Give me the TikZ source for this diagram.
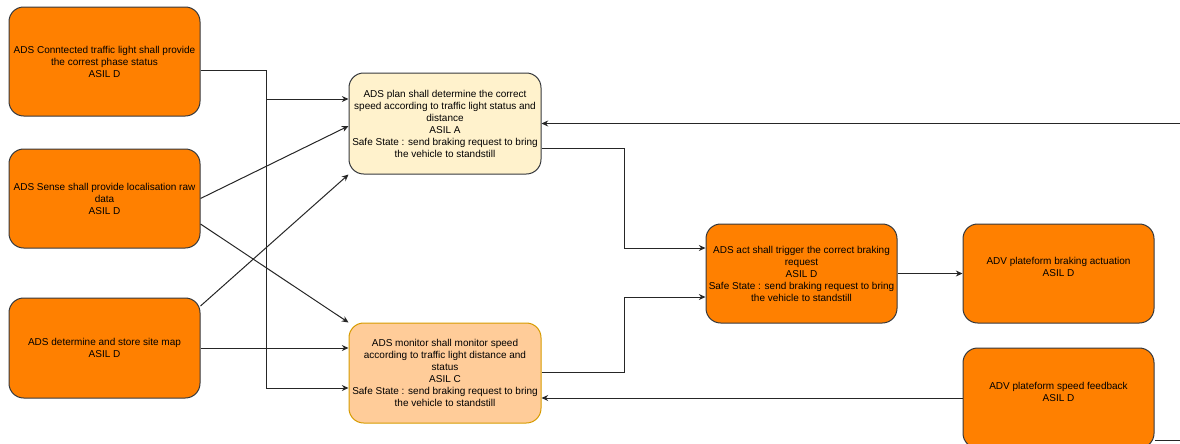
\documentclass[tikz,border=0pt]{standalone}
\usepackage{fontspec}
\setmainfont{Liberation Sans}
\usetikzlibrary{arrows.meta,calc}
\definecolor{fillorange}{HTML}{FF8000}
\definecolor{edgegray}{HTML}{36393D}
\definecolor{planfill}{HTML}{FFF2CC}
\definecolor{monfill}{HTML}{FFCC99}
\definecolor{monedge}{HTML}{D79B00}
\tikzset{
  req/.style={draw=edgegray, line width=0.75pt, rounded corners=11pt, align=center,
    font=\fontsize{7.5}{9}\selectfont, inner sep=0pt, minimum width=143.25pt},
  hotbox/.style={req, fill=fillorange},
  planbox/.style={req, fill=planfill, minimum width=144pt},
  monbox/.style={req, fill=monfill, draw=monedge, minimum width=144pt},
  txt/.style={align=center, font=\fontsize{7.5}{9}\selectfont, inner sep=0pt},
  link/.style={draw=black!85, line width=0.75pt, -{Stealth[length=5pt,width=4.5pt]}},
  plain/.style={draw=black!85, line width=0.75pt}
}
\begin{document}
\begin{tikzpicture}[x=0.75pt,y=-0.75pt]
\useasboundingbox (0,0) rectangle (1180,443);
% requirement boxes
\node[hotbox, minimum height=81.75pt] (light) at (104.5,61.5)
  {ADS Conntected traffic light shall provide\\the correst phase status\\ASIL D};
\node[hotbox, minimum height=74.25pt] (sense) at (104.5,198.5)
  {ADS Sense shall provide localisation raw\\data\\ASIL D};
\node[hotbox, minimum height=75pt] (map) at (104.5,348)
  {ADS determine and store site map\\ASIL D};
\node[planbox, minimum height=75.75pt] (plan) at (445,123.5)
  {ADS plan shall determine the correct\\speed according to traffic light status and\\distance\\ASIL A\\Safe State : send braking request to bring\\the vehicle to standstill};
\node[monbox, minimum height=75pt] (monitor) at (445,373)
  {ADS monitor shall monitor speed\\according to traffic light distance and\\status\\ASIL C\\Safe State : send braking request to bring\\the vehicle to standstill};
\node[hotbox, minimum height=74.25pt] (act) at (801.5,273.5)
  {ADS act shall trigger the correct braking\\request\\ASIL D\\Safe State : send braking request to bring\\the vehicle to standstill};
\node[hotbox, minimum height=74.25pt] (brake) at (1058.5,273.5) {};
\node[txt] (braketext) at (1058.5,267) {ADV plateform braking actuation\\ASIL D};
\node[hotbox, minimum height=75pt] (speed) at (1058.5,398) {};
\node[txt] (speedtext) at (1058.5,391.5) {ADV plateform speed feedback\\ASIL D};
% free ends leaving the sheet
\coordinate (feedin) at (1180,123.5);
\coordinate (feedout) at (1180,440);
% connectors
\draw[link] (light.east |- 0,70) -| (266,99) -- (plan.west |- 0,99);
\draw[link] (light.east |- 0,70) -| (266,388) -- (monitor.west |- 0,388);
\draw[link] (sense.east) -- (plan.west |- 0,126);
\draw[link] (sense.east |- 0,224) -- (monitor.north west);
\draw[link] (map.east |- 0,306) -- (plan.south west);
\draw[link] (map.east) -- (monitor.west |- map.east);
\draw[link] (plan.east |- 0,148) -| (624,248) -- (act.west |- 0,248);
\draw[link] (monitor.east |- 0,372) -| (624,297) -- (act.west |- 0,297);
\draw[link] (act.east) -- (brake.west);
\draw[link] (feedin) -- (plan.east |- feedin);
\draw[link] (speed.west) -- (monitor.east |- speed.west);
\draw[plain] (speed.east |- 0,440) -- (feedout);
\end{tikzpicture}
\end{document}
